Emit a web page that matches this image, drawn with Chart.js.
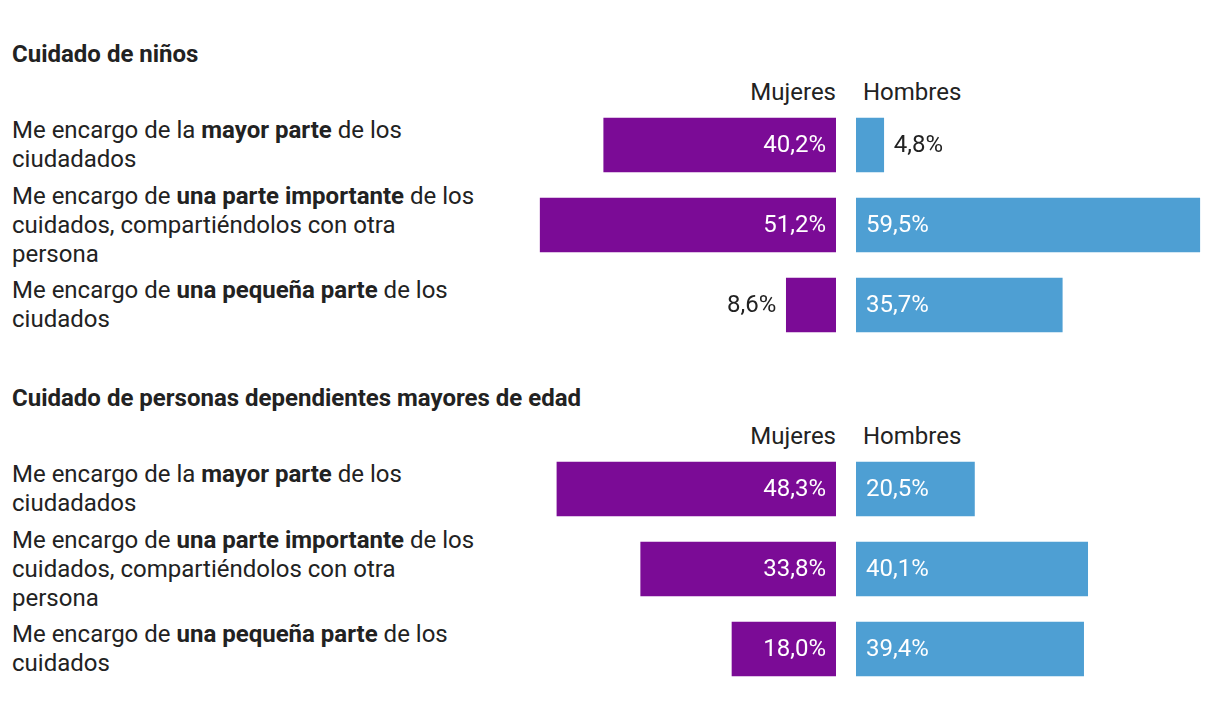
<!DOCTYPE html>
<html>
<head>
<meta charset="utf-8">
<script src="https://cdn.jsdelivr.net/npm/chart.js@4"></script>
<style>
  body { margin: 0; background: #fff; font-family: Roboto, sans-serif; color: #222; }
  #page { position: relative; width: 1220px; height: 718px; }
  .title { position: absolute; left: 12px; font-weight: bold; font-size: 24px; line-height: 28px; white-space: nowrap; }
  .head { position: absolute; font-size: 24px; line-height: 28px; }
  .row { position: absolute; left: 12px; width: 500px; height: 80px; display: flex; align-items: center;
         font-size: 24px; line-height: 29px; white-space: nowrap; }
  canvas { position: absolute; }
</style>
</head>
<body>
<div id="page"></div>
<script>
const sectionTitles = ['Cuidado de niños', 'Cuidado de personas dependientes mayores de edad'];
const seriesNames = ['Mujeres', 'Hombres'];
const rowLabels = [
  'Me encargo de la <b>mayor parte</b> de los<br>ciudadados',
  'Me encargo de <b>una parte importante</b> de los<br>cuidados, compartiéndolos con otra<br>persona',
  'Me encargo de <b>una pequeña parte</b> de los<br>ciudados'
];
const rowLabels2 = [
  'Me encargo de la <b>mayor parte</b> de los<br>ciudadados',
  'Me encargo de <b>una parte importante</b> de los<br>cuidados, compartiéndolos con otra<br>persona',
  'Me encargo de <b>una pequeña parte</b> de los<br>cuidados'
];
const ninosMujeres = [40.2, 51.2, 8.6];
const ninosHombres = [4.8, 59.5, 35.7];
const mayoresMujeres = [48.3, 33.8, 18.0];
const mayoresHombres = [20.5, 40.1, 39.4];

const purple = '#7b0b96';
const blue = '#4e9fd3';

const valueLabels = {
  id: 'valueLabels',
  afterDatasetsDraw(chart) {
    const ctx = chart.ctx;
    const ds = chart.data.datasets[0];
    ctx.save();
    ctx.font = '24px Roboto';
    ctx.textBaseline = 'middle';
    chart.getDatasetMeta(0).data.forEach((bar, i) => {
      const text = ds.data[i].toFixed(1).replace('.', ',') + '%';
      const w = ctx.measureText(text).width;
      const { x, y, base } = bar.getProps(['x', 'y', 'base'], true);
      const dir = x > base ? 1 : -1;
      ctx.textAlign = dir > 0 ? 'left' : 'right';
      if (Math.abs(x - base) >= w + 20) {
        ctx.fillStyle = '#fff';
        ctx.fillText(text, base + dir * 10, y + 1);
      } else {
        ctx.fillStyle = '#222';
        ctx.fillText(text, x + dir * 10, y + 1);
      }
    });
    ctx.restore();
  }
};

const page = document.getElementById('page');

function makeBars(left, top, values, color, reverse) {
  const canvas = document.createElement('canvas');
  canvas.width = 364;
  canvas.height = 240;
  canvas.style.left = left + 'px';
  canvas.style.top = top + 'px';
  page.appendChild(canvas);
  new Chart(canvas.getContext('2d'), {
    type: 'bar',
    data: {
      labels: ['a', 'b', 'c'],
      datasets: [{ data: values, backgroundColor: color, barThickness: 54 }]
    },
    options: {
      indexAxis: 'y',
      responsive: false,
      animation: false,
      layout: { padding: 0 },
      plugins: { legend: { display: false }, tooltip: { enabled: false } },
      scales: {
        x: { display: false, min: 0, max: 63, reverse: reverse },
        y: { display: false }
      }
    },
    plugins: [valueLabels]
  });
}

function addDiv(cls, html, style) {
  const d = document.createElement('div');
  d.className = cls;
  d.innerHTML = html;
  Object.assign(d.style, style);
  page.appendChild(d);
}

function section(top, title, labels, mujeres, hombres) {
  addDiv('title', title, { top: (top - 14) + 'px' });
  addDiv('head', seriesNames[0], { top: (top + 24) + 'px', right: (1220 - 836) + 'px' });
  addDiv('head', seriesNames[1], { top: (top + 24) + 'px', left: '863px' });
  labels.forEach((l, i) => {
    addDiv('row', '<div>' + l + '</div>', { top: (top + 51 + i * 80) + 'px' });
  });
  makeBars(472, top + 51, mujeres, purple, true);
  makeBars(856, top + 51, hombres, blue, false);
}

section(54, sectionTitles[0], rowLabels, ninosMujeres, ninosHombres);
section(398, sectionTitles[1], rowLabels2, mayoresMujeres, mayoresHombres);
</script>
</body>
</html>
